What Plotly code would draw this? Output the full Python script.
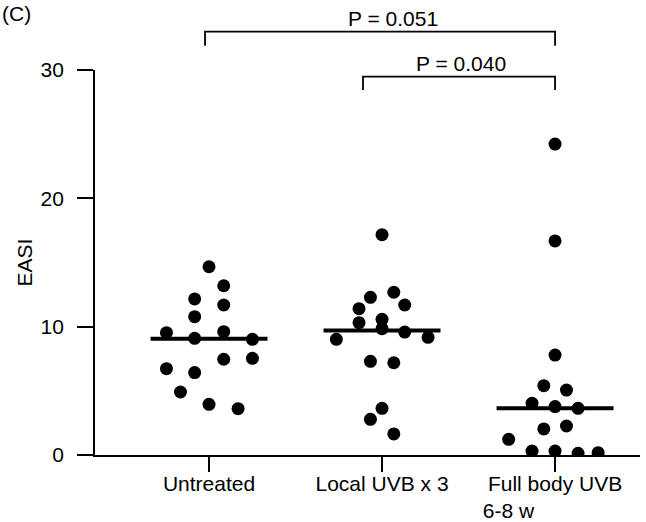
import numpy as np
import plotly.graph_objects as go

# ---------------- data ----------------
categories = ["Untreated", "Local UVB x 3", "Full body UVB<br>6-8 w"]

untreated = [14.67, 13.19, 12.16, 11.69, 10.78, 9.53, 9.61, 9.09, 9.01, 7.46,
             7.53, 6.73, 6.42, 4.91, 3.95, 3.61]
local_uvb = [17.17, 12.29, 12.68, 11.40, 11.69, 10.31, 10.57, 9.84, 9.58, 9.01,
             9.17, 7.30, 7.19, 3.64, 2.78, 1.64]
full_body = [24.23, 16.68, 7.79, 5.40, 5.06, 4.03, 3.77, 3.64, 2.03, 2.26,
             1.22, 0.31, 0.31, 0.13, 0.18]

y_ticks = [0, 10, 20, 30]
p_labels = ["P = 0.051", "P = 0.040"]

# ---------------- layout helpers (swarm offsets, in category units) ----------------
untreated_dx = [0, 0.085, -0.083, 0.085, -0.083, -0.246, 0.085, -0.083, 0.251, 0.085,
                0.251, -0.246, -0.083, -0.165, 0, 0.168]
local_dx = [0, -0.067, 0.068, -0.133, 0.131, -0.133, 0, 0, 0.131, -0.264,
            0.266, -0.067, 0.068, 0, -0.067, 0.068]
full_dx = [0, 0, 0, -0.065, 0.066, -0.133, 0, 0.133, -0.065, 0.066,
           -0.268, -0.133, 0, 0.133, 0.249]

groups = [untreated, local_uvb, full_body]
offsets = [untreated_dx, local_dx, full_dx]

FONT = "Liberation Sans, Arial, sans-serif"
fig = go.Figure()

half = 0.338
for i, (vals, dx) in enumerate(zip(groups, offsets)):
    med = float(np.median(vals))
    fig.add_trace(go.Scatter(
        x=[i - half, i + half], y=[med, med], mode="lines",
        line=dict(color="black", width=4), showlegend=False, hoverinfo="skip"))
    fig.add_trace(go.Scatter(
        x=[i + d for d in dx], y=vals, mode="markers",
        marker=dict(color="black", size=13, line=dict(width=0)),
        showlegend=False, cliponaxis=True))

# ---------------- significance brackets ----------------
brackets = [  # (x0, x1, bar paper-y, tip paper-y, label x, label paper-y)
    (-0.023, 2.0, 1.0995, 1.0631, 1.064, 1.0975),
    (0.89, 2.0, 0.9826, 0.948, 1.457, 0.983),
]
for (x0, x1, yb, yt, lx, ly), lab in zip(brackets, p_labels):
    fig.add_shape(type="path", xref="x", yref="paper",
                  path=f"M {x0},{yt} L {x0},{yb} L {x1},{yb} L {x1},{yt}",
                  line=dict(color="black", width=1.8))
    fig.add_annotation(x=lx, y=ly, xref="x", yref="paper", text=lab,
                       showarrow=False, xanchor="center", yanchor="bottom",
                       font=dict(family=FONT, size=21, color="black"))

fig.add_annotation(x=-95 / 545, y=1.182, xref="paper", yref="paper", text="(C)",
                   showarrow=False, xanchor="left", yanchor="top",
                   font=dict(family=FONT, size=21, color="black"))

nb = "\u00a0"
ticktext = ["Untreated", "Local UVB x 3", "Full body UVB<br>6-8 w" + nb * 16]

fig.update_layout(
    width=646, height=522,
    margin=dict(l=95, r=6, t=70, b=67),
    paper_bgcolor="white", plot_bgcolor="white",
    font=dict(family=FONT, size=21, color="black"),
    xaxis=dict(range=[-0.659, 2.491], tickvals=[0, 1, 2], ticktext=ticktext,
               automargin=False, ticklabelstandoff=-6,
               showgrid=False, zeroline=False, showline=True, linecolor="black",
               linewidth=1.8, ticks="outside", ticklen=15, tickwidth=1.8,
               tickcolor="black", tickfont=dict(family=FONT, size=21, color="black")),
    yaxis=dict(range=[0, 30], tickvals=y_ticks, showgrid=False, zeroline=False,
               automargin=True, ticklabelstandoff=9,
               showline=True, linecolor="black", linewidth=1.8, ticks="outside",
               ticklen=16, tickwidth=1.8, tickcolor="black",
               tickfont=dict(family=FONT, size=21, color="black"),
               title=dict(text="EASI", standoff=2,
                          font=dict(family=FONT, size=21, color="black"))),
)

fig.write_html("out.html")
